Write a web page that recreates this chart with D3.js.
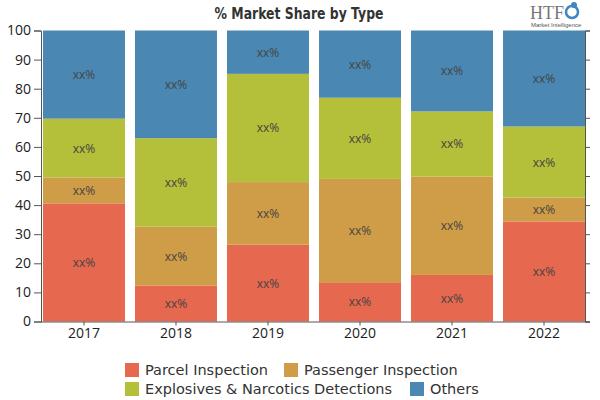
<!DOCTYPE html>
<html lang="en">
<head>
<meta charset="UTF-8">
<title>% Market Share by Type</title>
<script src="https://cdn.jsdelivr.net/npm/d3@7"></script>
<style>
    body { margin: 0; background: #fff; }
    .tick text { font-family: "Open Sans", "Liberation Sans", sans-serif; font-size: 14px; fill: #222; }
    .seg-label { font-family: "Open Sans", "DejaVu Sans", sans-serif; font-size: 12px; fill: #444; }
    .legend text { font-family: "DejaVu Sans", sans-serif; font-size: 14.5px; fill: #333; }
</style>
</head>
<body>
<svg id="chart" width="600" height="400"></svg>
<script>
    // data
    let years = ["2017", "2018", "2019", "2020", "2021", "2022"]
    let types = ["Parcel Inspection", "Passenger Inspection", "Explosives & Narcotics Detections", "Others"]
    let parcel = [40.6, 12.4, 26.4, 13.5, 16.0, 34.4]
    let passenger = [8.9, 20.2, 21.5, 35.5, 33.8, 8.2]
    let explosives = [20.2, 30.4, 37.2, 27.9, 22.4, 24.4]
    let others = [30.3, 37.0, 14.9, 23.1, 27.8, 33.0]
    let yTicks = [0, 10, 20, 30, 40, 50, 60, 70, 80, 90, 100]
    let colors = ["#e6684e", "#cf9d47", "#b4bf3a", "#4a88b3"]

    let series_values = [parcel, passenger, explosives, others]
    let rows = years.map((y, i) => {
        let r = {year: y}
        types.forEach((t, k) => r[t] = series_values[k][i])
        return r
    })
    let stacked = d3.stack().keys(types)(rows)

    let svg = d3.select("#chart")

    let x = d3.scaleBand().domain(years).range([43, 585]).paddingInner(0.109).paddingOuter(0)
    let y = d3.scaleLinear().domain([0, 100]).range([321.5, 30.5])

    // bars
    let layers = svg.append("g").selectAll("g")
        .data(stacked)
        .join("g")
        .attr("fill", (d, i) => colors[i])

    layers.selectAll("rect")
        .data(d => d)
        .join("rect")
        .attr("x", d => x(d.data.year))
        .attr("width", x.bandwidth())
        .attr("y", d => y(d[1]))
        .attr("height", d => y(d[0]) - y(d[1]))

    // xx% labels
    layers.selectAll("text")
        .data(d => d)
        .join("text")
        .attr("class", "seg-label")
        .attr("x", d => x(d.data.year) + x.bandwidth() / 2)
        .attr("y", d => (y(d[0]) + y(d[1])) / 2)
        .attr("text-anchor", "middle")
        .attr("dominant-baseline", "central")
        .text("xx%")

    // left axis
    let yAxis = svg.append("g")
        .attr("transform", "translate(41,0)")
        .call(d3.axisLeft(y).tickValues(yTicks).tickSize(7).tickPadding(3))
    yAxis.selectAll("path, line").attr("stroke", "#555")

    // right axis, ticks only
    let yAxisR = svg.append("g")
        .attr("transform", "translate(585,0)")
        .call(d3.axisRight(y).tickValues(yTicks).tickSize(5).tickFormat(""))
    yAxisR.selectAll("path, line").attr("stroke", "#555")

    // bottom axis
    let xAxis = svg.append("g")
        .attr("transform", "translate(0,321.5)")
        .call(d3.axisBottom(x).tickSize(4).tickPadding(3).tickSizeOuter(0))
    xAxis.select(".domain").attr("d", "M41,0.5H590").attr("stroke", "#555")
    xAxis.selectAll("line").attr("stroke", "#555")

    // title
    svg.append("text")
        .attr("x", 299)
        .attr("y", 19)
        .attr("text-anchor", "middle")
        .attr("textLength", 169)
        .attr("lengthAdjust", "spacingAndGlyphs")
        .style("font-family", "'DejaVu Sans', sans-serif")
        .style("font-weight", "900")
        .style("font-size", "16px")
        .style("fill", "#333")
        .text("% Market Share by Type")

    // logo
    let logo = svg.append("g").attr("transform", "translate(530,0)")
    logo.append("text").attr("x", 0).attr("y", 19)
        .style("font-family", "'Liberation Serif', serif").style("font-size", "18px").style("fill", "#777")
        .text("HTF")
    logo.append("circle").attr("cx", 42).attr("cy", 12).attr("r", 6).attr("fill", "none").attr("stroke", "#3f86c4").attr("stroke-width", 2.5)
    logo.append("circle").attr("cx", 44).attr("cy", 5).attr("r", 3).attr("fill", "#3f86c4")
    logo.append("text").attr("x", 1).attr("y", 27)
        .style("font-family", "'Liberation Sans Narrow', sans-serif").style("font-size", "6px").style("fill", "#555")
        .text("Market Intelligence")

    // legend
    let legendPos = [[125, 370], [284, 370], [125, 389], [410, 389]]
    let legend = svg.append("g").attr("class", "legend")
    types.forEach((t, i) => {
        let p = legendPos[i]
        legend.append("rect").attr("x", p[0]).attr("y", p[1] - 7).attr("width", 14).attr("height", 14).attr("fill", colors[i])
        legend.append("text").attr("x", p[0] + 20).attr("y", p[1]).attr("dominant-baseline", "central").text(t)
    })
</script>
</body>
</html>
